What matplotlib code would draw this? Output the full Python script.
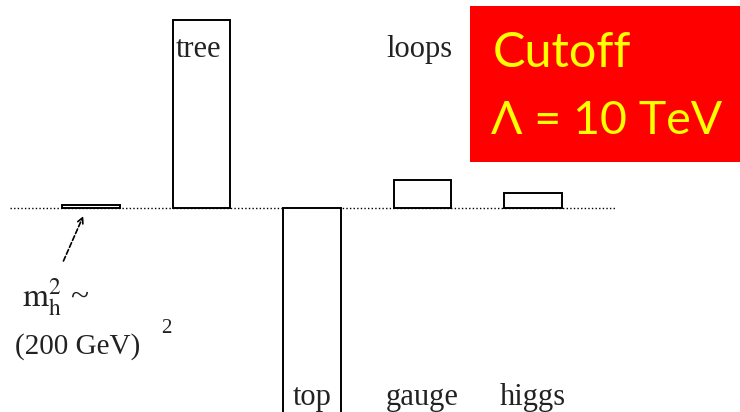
import numpy as np
import matplotlib.pyplot as plt
from matplotlib.patches import Rectangle

plt.rcParams['mathtext.fontset'] = 'stix'

# contributions to the higgs mass^2 (arbitrary units, baseline = 0)
names = ["mh2", "tree", "top", "gauge", "higgs"]
values = [3, 188, -228, 28, 15]
labels_top = {1: "tree", 3: "loops"}
labels_bottom = {2: "top", 3: "gauge", 4: "higgs"}

x = np.arange(len(names))

fig = plt.figure(figsize=(7.4, 4.12), dpi=100)
ax = fig.add_axes([0, 0, 1, 1])
ax.set_xlim(-0.824, 5.873)
ax.set_ylim(-204, 208)
ax.axis("off")

ax.plot([-0.733, 4.742], [0, 0], color="black", lw=1.0, linestyle=(0, (1, 1.6)), zorder=1)
ax.bar(x, values, width=0.52, facecolor="white", edgecolor="black", linewidth=1.4, zorder=3)

serif = "Liberation Serif"
tc = "#222222"
for i, t in labels_top.items():
    ax.text(x[i] - 0.03, 151, t, ha="center", va="baseline", fontsize=22, family=serif,
            color=tc, zorder=4)
for i, t in labels_bottom.items():
    ax.text(x[i], -197, t, ha="center", va="baseline", fontsize=22, family=serif,
            color=tc, zorder=4)

# arrow pointing at the tiny physical higgs mass bar
ax.annotate("", xy=(x[0] - 0.07, -8), xytext=(x[0] - 0.25, -53),
            arrowprops=dict(arrowstyle="->", lw=1.2, linestyle=(0, (3, 1.5)), color="black",
                            shrinkA=0, shrinkB=0))
ax.text(0.03, 1 - 306 / 412, r"$\mathrm{m}_\mathrm{h}^2$ ~", transform=ax.transAxes,
        fontsize=24, family=serif, va="baseline", color=tc)
ax.text(0.02, 1 - 354 / 412, "(200 GeV)", transform=ax.transAxes,
        fontsize=21, family=serif, va="baseline", color=tc)
ax.text(0.218, 1 - 333 / 412, "2", transform=ax.transAxes,
        fontsize=15, family=serif, va="baseline", color=tc)

# cutoff box
ax.add_patch(Rectangle((470 / 740, 1 - 162 / 412), 270 / 740, 156 / 412,
                       transform=ax.transAxes, facecolor="#ff0000", edgecolor="none", zorder=5))
ax.text(493 / 740, 1 - 67 / 412, "Cutoff", transform=ax.transAxes, color="#ffff00",
        fontsize=35, family="Lato", va="baseline", zorder=6)
ax.text(491 / 740, 1 - 134 / 412, "\u039b = 10 TeV", transform=ax.transAxes, color="#ffff00",
        fontsize=33.5, family="Lato", va="baseline", zorder=6)

fig.savefig("out.png", dpi=100)
